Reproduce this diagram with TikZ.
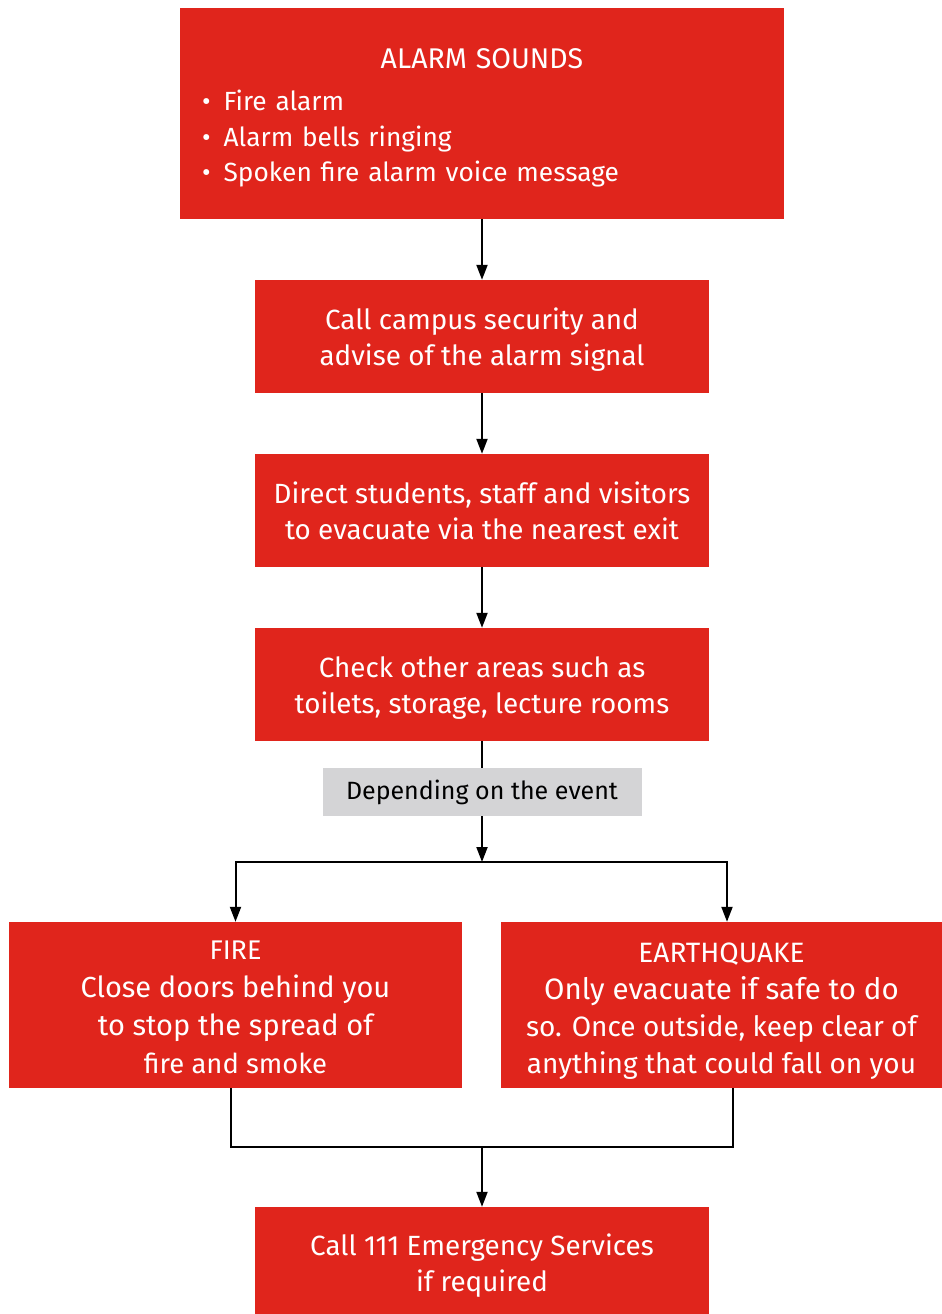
\documentclass[tikz,border=0pt]{standalone}
\usepackage{fontspec}
\setmainfont{Fira Sans}
\usetikzlibrary{arrows.meta}
\definecolor{alarmred}{HTML}{E0251C}
\definecolor{notegray}{HTML}{D4D4D6}

\begin{document}
\begin{tikzpicture}[x=1pt,y=-1pt,
    redbox/.style={fill=alarmred,text=white,align=center,inner sep=0pt,
      font=\fontsize{27.8}{36}\selectfont},
    stepbox/.style={redbox,minimum width=454pt,minimum height=113pt,
      text height=57pt,text depth=0pt},
    eventbox/.style={redbox,minimum height=166pt,text height=136pt,text depth=0pt,
      font=\fontsize{29}{38}\selectfont},
    flow/.style={line width=2pt,-{Triangle[width=11pt,length=15pt]}},
    link/.style={line width=2pt}]

  \useasboundingbox (0,0) rectangle (942,1314);

  % Alarm box at the top
  \node[redbox,minimum width=604pt,minimum height=211pt,text width=560pt,align=left,
    text height=20pt,text depth=111pt,font=\fontsize{26.3}{35.5}\selectfont]
    (alarm) at (482,113.5)
    {\makebox[\linewidth]{\fontsize{28.5}{30}\selectfont ALARM SOUNDS}\\[7pt]
     \textbullet\enspace Fire alarm\\
     \textbullet\enspace Alarm bells ringing\\
     \textbullet\enspace Spoken fire alarm voice message};

  % Steps
  \node[stepbox] (call)   at (482,336.5) {Call campus security and\\advise of the alarm signal};
  \node[stepbox] (direct) at (482,510.5) {Direct students, staff and visitors\\to evacuate via the nearest exit};
  \node[stepbox] (check)  at (482,684.5) {Check other areas such as\\toilets, storage, lecture rooms};

  % Note on the branch
  \node[fill=notegray,minimum width=319pt,minimum height=48pt,inner sep=0pt,
    font=\fontsize{25}{28}\selectfont] (event) at (482,792) {Depending on the event};

  % Branch points
  \coordinate (split) at (482,862);
  \coordinate (join)  at (482,1147);

  % Fire and earthquake
  \node[eventbox,minimum width=453pt] (fire) at (235.5,1005)
    {{\fontsize{27}{30}\selectfont FIRE}\\Close doors behind you\\to stop the spread of\\{\fontsize{27.4}{30}\selectfont fire and smoke}};
  \node[eventbox,minimum width=441pt,font=\fontsize{28}{37}\selectfont] (quake) at (721.5,1005)
    {{\fontsize{28}{30}\selectfont EARTHQUAKE}\\{\fontsize{29.5}{30}\selectfont Only evacuate if safe to do}\\so. Once outside, keep clear of\\anything that could fall on you};

  % Last step
  \node[stepbox,minimum height=107pt,text height=61pt] (final) at (482,1260.5) {Call 111 Emergency Services\\if required};

  % Connectors
  \draw[flow] (alarm) -- (call);
  \draw[flow] (call) -- (direct);
  \draw[flow] (direct) -- (check);
  \draw[link] (check) -- (event);
  \draw[flow] (event) -- (split);
  \draw[flow] (split) -| (fire.north);
  \draw[flow] (split) -| ([xshift=5.5pt]quake.north);
  \draw[link] ([xshift=-4.5pt]fire.south) |- (join) -| ([xshift=11.5pt]quake.south);
  \draw[flow] (join) -- (final);

\end{tikzpicture}
\end{document}
